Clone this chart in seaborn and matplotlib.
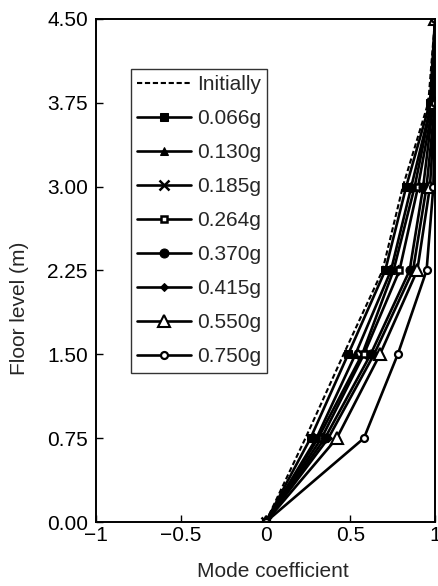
import matplotlib
matplotlib.use("Agg")
import matplotlib.pyplot as plt
import seaborn as sns
import pandas as pd

# Floor levels (m)
levels = [0.0, 0.75, 1.50, 2.25, 3.00, 3.75, 4.50]

# Mode shape coefficients per excitation level
initially = [0.0, 0.235, 0.46, 0.69, 0.81, 0.96, 1.0]
g_0066 = [0.0, 0.265, 0.487, 0.706, 0.83, 0.97, 1.0]
g_0130 = [0.0, 0.30, 0.53, 0.74, 0.86, 0.98, 1.0]
g_0185 = [0.0, 0.31, 0.57, 0.755, 0.88, 0.98, 1.0]
g_0264 = [0.0, 0.33, 0.58, 0.79, 0.90, 0.99, 1.0]
g_0370 = [0.0, 0.35, 0.62, 0.85, 0.93, 0.99, 1.0]
g_0415 = [0.0, 0.37, 0.64, 0.87, 0.95, 1.0, 1.0]
g_0550 = [0.0, 0.42, 0.675, 0.895, 0.97, 1.0, 1.0]
g_0750 = [0.0, 0.58, 0.78, 0.95, 0.99, 1.0, 1.0]

series_names = ["Initially", "0.066g", "0.130g", "0.185g", "0.264g",
                "0.370g", "0.415g", "0.550g", "0.750g"]
series_values = [initially, g_0066, g_0130, g_0185, g_0264,
                 g_0370, g_0415, g_0550, g_0750]

x_ticks = [-1, -0.5, 0, 0.5, 1]
x_tick_labels = ["\u22121", "\u22120.5", "0", "0.5", "1"]
y_ticks = [0.00, 0.75, 1.50, 2.25, 3.00, 3.75, 4.50]

rows = []
for name, vals in zip(series_names, series_values):
    for lv, v in zip(levels, vals):
        rows.append({"series": name, "coef": v, "level": lv})
df = pd.DataFrame(rows)

styles = {
    "Initially": dict(linestyle=(0, (2.5, 1.3)), marker=None, lw=1.5),
    "0.066g": dict(marker="s", ms=5.5, mfc="black"),
    "0.130g": dict(marker="^", ms=5.5, mfc="black"),
    "0.185g": dict(marker="x", ms=7, mfc="black", mew=1.8),
    "0.264g": dict(marker="s", ms=5, mfc="white", mew=1.8),
    "0.370g": dict(marker="o", ms=6.5, mfc="black"),
    "0.415g": dict(marker="D", ms=4, mfc="black"),
    "0.550g": dict(marker="^", ms=8, mfc="white", mew=1.5),
    "0.750g": dict(marker="o", ms=5, mfc="white", mew=1.6),
}

sns.set_style("ticks")
plt.rcParams["font.family"] = ["Liberation Sans", "DejaVu Sans"]

FS = 15

fig = plt.figure(figsize=(4.39, 5.86), dpi=100)
ax = fig.add_axes([0.219, 0.109, 0.772, 0.859])

for name in series_names:
    st = dict(styles[name])
    lw = st.pop("lw", 1.9)
    ls = st.pop("linestyle", "-")
    sub = df[df["series"] == name]
    sns.lineplot(data=sub, x="coef", y="level", sort=False, estimator=None,
                 color="black", lw=lw, linestyle=ls, mec="black",
                 label=name, ax=ax, **st)

ax.set_xlim(-1, 1)
ax.set_ylim(0, 4.5)
ax.set_xticks(x_ticks)
ax.set_xticklabels(x_tick_labels)
ax.set_yticks(y_ticks)
ax.set_yticklabels([f"{t:.2f}" for t in y_ticks])
ax.tick_params(direction="in", length=5, width=1, labelsize=FS,
               colors="black")
ax.tick_params(axis="y", pad=6)
ax.tick_params(axis="x", pad=3)
for s in ax.spines.values():
    s.set_linewidth(1.4)
    s.set_color("black")
ax.set_xlabel("Mode coefficient", fontsize=FS)
ax.set_ylabel("Floor level (m)", fontsize=FS)
ax.xaxis.set_label_coords(0.522, -0.080)
ax.yaxis.set_label_coords(-0.198, 0.425)

leg = ax.legend(loc="upper left", bbox_to_anchor=(0.103, 0.90),
                borderaxespad=0, frameon=True, fancybox=False,
                edgecolor="black", fontsize=FS, handlelength=2.6,
                labelspacing=0.72, handletextpad=0.25, borderpad=0.3)
leg.get_frame().set_linewidth(1.0)

fig.savefig("out.png", dpi=100)
